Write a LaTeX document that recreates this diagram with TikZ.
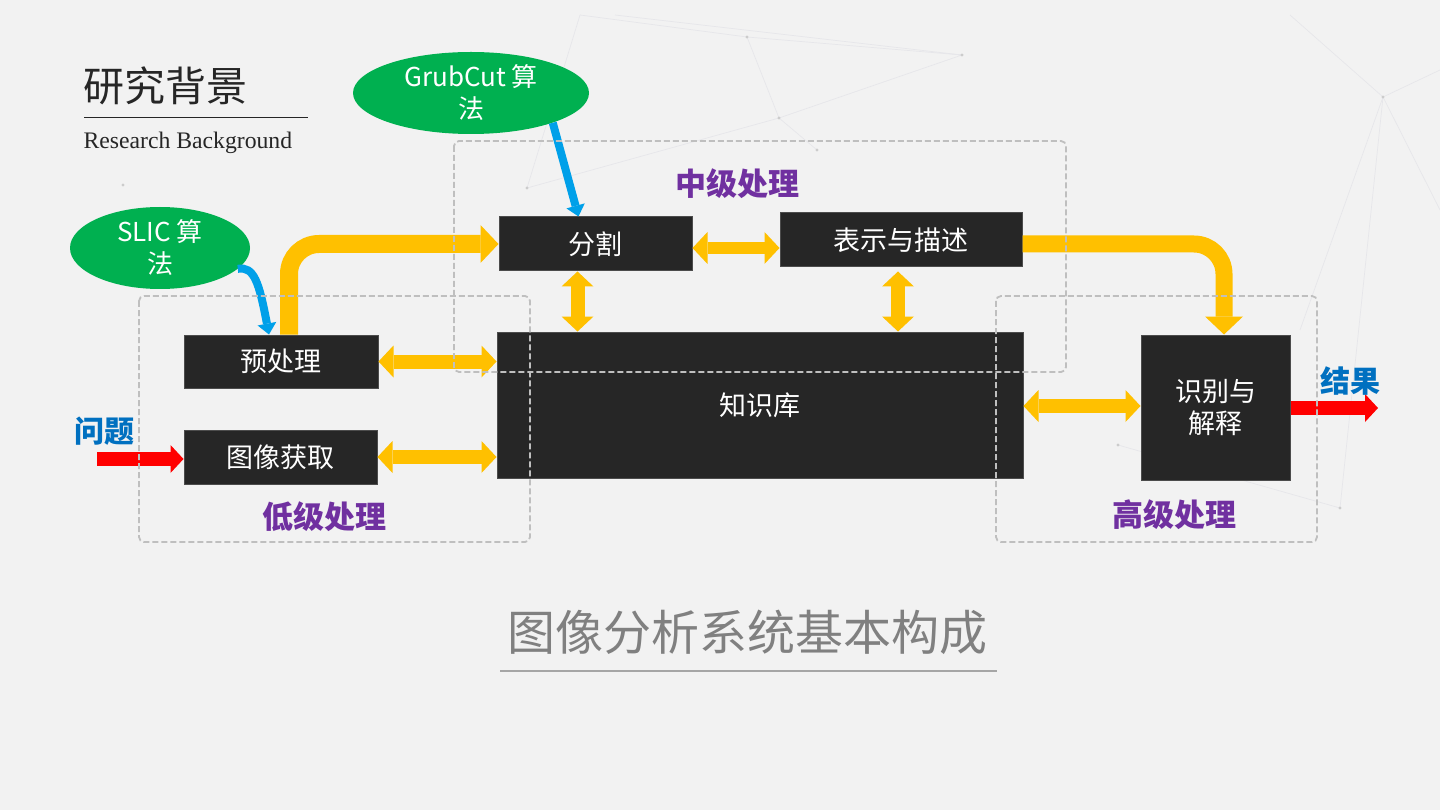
\documentclass[tikz,border=0pt]{standalone}
\usepackage{fontspec}
\setmainfont{Liberation Serif}
\newfontfamily\cjk{Noto Sans CJK SC}
\usetikzlibrary{arrows.meta,shapes.geometric}

\definecolor{bgc}{HTML}{F2F2F2}
\definecolor{boxc}{HTML}{262626}
\definecolor{yel}{HTML}{FFC000}
\definecolor{grn}{HTML}{00B050}
\definecolor{sky}{HTML}{00A0E9}
\definecolor{purp}{HTML}{7030A0}
\definecolor{lblue}{HTML}{0070C0}
\definecolor{dashc}{HTML}{BFBFBF}
\definecolor{netc}{HTML}{E6E6EA}

\tikzset{
  blk/.style={rectangle, fill=boxc, draw=black!70, line width=1pt, text=white,
    inner sep=0pt, align=center, font=\cjk\fontsize{27}{32}\selectfont},
  oval/.style={ellipse, fill=grn, text=white, inner sep=0pt, align=center,
    font=\cjk\fontsize{26}{32}\selectfont},
  stage/.style={text=purp, font=\cjk\bfseries\fontsize{31}{36}\selectfont},
  io/.style={text=lblue, font=\cjk\bfseries\fontsize{30}{36}\selectfont},
  ytip/.tip={Triangle[length=15pt,width=32pt,line width=0pt]},
  yarr/.style={draw=yel, line width=14pt, ytip-ytip},
  ybend/.style={draw=yel, line width=18pt, rounded corners=30pt,
    -{Triangle[length=18pt,width=38pt,line width=0pt]}},
  barr/.style={draw=sky, line width=8pt,
    -{Triangle[length=11pt,width=19pt,line width=0pt]}},
  rarr/.style={draw=red, line width=14pt,
    -{Triangle[length=13pt,width=28pt,line width=0pt]}},
  region/.style={draw=dashc, line width=1.8pt, dash pattern=on 6pt off 3pt,
    rounded corners=5pt},
}

\begin{document}
\begin{tikzpicture}[x=1pt,y=-1pt]
\useasboundingbox (0,0) rectangle (1440,810);
\fill[bgc] (0,0) rectangle (1440,810);

% faint network in the background
\draw[netc, line width=0.7pt] (580,15) -- (747,37) -- (962,55) -- (779,118) -- (747,37);
\draw[netc, line width=0.7pt] (580,15) -- (527,188) -- (779,118) -- (817,150);
\draw[netc, line width=0.7pt] (615,15) -- (962,55);
\draw[netc, line width=0.7pt] (1290,15) -- (1383,97) -- (1440,70);
\draw[netc, line width=0.7pt] (1383,97) -- (1440,210);
\draw[netc, line width=0.7pt] (1383,97) -- (1340,508) -- (1118,445);
\draw[netc, line width=0.7pt] (1383,97) -- (1300,330);
\foreach \p in {(747,37),(962,55),(779,118),(527,188),(817,150),(1383,97),(1340,508),(1118,445),(123,185)}
  \fill[black!20] \p circle (1.6pt);

% title
\node[anchor=west, text=boxc, font=\cjk\fontsize{41}{46}\selectfont] (title) at (80,86) {研究背景};
\draw[boxc, line width=1pt] (84,118) -- (308,118);
\node[anchor=west, text=boxc, font=\fontsize{23.7}{28}\selectfont] (subtitle) at (80,143) {Research Background};

% boxes
\node[blk, minimum width=193pt, minimum height=54pt] (seg) at (595.5,244) {分割};
\node[blk, minimum width=242pt, minimum height=54pt] (desc) at (901,240) {表示与描述};
\node[blk, minimum width=194pt, minimum height=53pt] (pre) at (281,361.5) {预处理};
\node[blk, minimum width=193pt, minimum height=54pt] (img) at (280.5,457) {图像获取};
\node[blk, minimum width=526pt, minimum height=146pt] (kb) at (760,405) {知识库};
\node[blk, minimum width=149pt, minimum height=145pt] (rec) at (1215.5,407.5) {识别与\\解释};

\node[oval, minimum width=236pt, minimum height=82pt] (grub) at (471,93) {GrubCut 算\\法};
\node[oval, minimum width=180pt, minimum height=82pt] (slic) at (160,248) {SLIC 算\\法};

% yellow links
\draw[yarr] (pre.east) -- (pre.east -| kb.west);
\draw[yarr] (img.east) -- (img.east -| kb.west);
\draw[yarr, line width=12pt] ([yshift=-4pt]seg.east) -- ([yshift=-4pt]seg.east -| desc.west);
\draw[yarr] ([xshift=-18pt]seg.south) -- ([xshift=-18pt]seg.south |- kb.north);
\draw[yarr] ([xshift=-3pt,yshift=-4pt]desc.south) -- ([xshift=-3pt]desc.south |- kb.north);
\draw[yarr] ([yshift=-1pt]kb.east) -- ([yshift=-1pt]kb.east -| rec.west);
\draw[ybend] ([xshift=8pt]pre.north) |- (seg.west);
\draw[ybend, line width=17pt] ([yshift=-4pt]desc.east) -| ([xshift=8.5pt]rec.north);

% blue links
\draw[barr] (grub.-20) -- ([xshift=-17pt]seg.north);
\draw[barr] (slic.-15) .. controls (254,266) and (259,282) .. ([xshift=-12pt]pre.north);

% input and output
\coordinate (qin) at (97,459);
\coordinate (rout) at (1378,408);
\draw[rarr] (qin) -- (qin -| img.west);
\draw[rarr] (rec.east |- rout) -- (rout);
\node[io] (q) at (104,431) {问题};
\node[io] (res) at (1350,381) {结果};

% processing levels
\draw[region] (139,296) rectangle (530,542);
\draw[region] (454,141) rectangle (1066,372);
\draw[region] (996,296) rectangle (1317,542);
\node[stage] (mid) at (737,184) {中级处理};
\node[stage] (low) at (324,517) {低级处理};
\node[stage] (high) at (1174,515) {高级处理};

% caption
\node[text=black!50, font=\cjk\fontsize{48}{54}\selectfont] (cap) at (747,632) {图像分析系统基本构成};
\draw[black!35, line width=1.2pt] (500,671) -- (997,671);
\end{tikzpicture}
\end{document}
